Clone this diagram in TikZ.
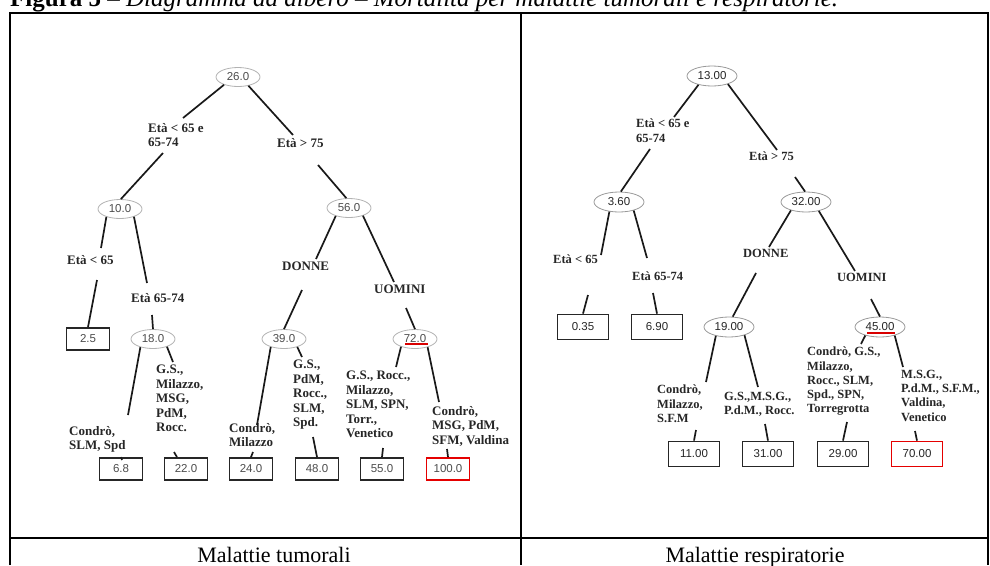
\documentclass[tikz,border=0pt]{standalone}
\usepackage{fontspec}
\setmainfont{Liberation Serif}
\newfontfamily\arialf{Liberation Sans}
\usetikzlibrary{shapes.geometric,calc}
\begin{document}
\begin{tikzpicture}[x=1pt,y=-1pt,
  val/.style={ellipse, draw=gray!60, line width=0.8pt, minimum width=44pt, minimum height=19pt, inner sep=0pt, font=\arialf\fontsize{11.5}{12}\selectfont, text=black!70},
  valr/.style={val, draw=gray!80, minimum width=50pt, minimum height=20pt, text=black!85},
  leaf/.style={rectangle, draw=black!85, line width=1.8pt, minimum width=43pt, minimum height=22pt, inner sep=0pt, font=\arialf\fontsize{11.5}{12}\selectfont, text=black!70},
  leafr/.style={leaf, minimum width=51pt, minimum height=25pt, text=black!85},
  redleaf/.style={draw=red!90!black},
  lab/.style={anchor=north west, inner sep=0pt, align=left, font=\bfseries\fontsize{13}{14.5}\selectfont, text=black!85},
  labr/.style={lab, font=\bfseries\fontsize{12.5}{14.2}\selectfont},
  conn/.style={line width=1.7pt, black!90},
  frame/.style={line width=2pt, black},
  redline/.style={line width=1.5pt, red!85!black},
]
\useasboundingbox (0,0) rectangle (990,565);
\clip (0,0) rectangle (990,565);

% caption and table
\node[anchor=base west, inner sep=0pt, font=\fontsize{25}{25}\selectfont] (cap) at (10,6)
  {\textbf{Figura 5} – \textit{Diagramma ad albero – Mortalità per malattie tumorali e respiratorie.}};
\draw[frame] (10,565) -- (10,13) -- (988,13) -- (988,565);
\draw[frame] (521,13) -- (521,565);
\draw[frame] (10,538) -- (988,538);
\node[anchor=base, inner sep=0pt, font=\fontsize{22}{22}\selectfont] (t1) at (274,562) {Malattie tumorali};
\node[anchor=base, inner sep=0pt, font=\fontsize{22}{22}\selectfont] (t2) at (755,562) {Malattie respiratorie};

% ---------------- left tree ----------------
\node[val] (L26) at (238,77) {26.0};
\node[val] (L10) at (120,209) {10.0};
\node[val] (L56) at (349,208) {56.0};
\node[val] (L18) at (153,339) {18.0};
\node[val] (L39) at (284,339) {39.0};
\node[val] (L72) at (415,339) {72.0};
\node[leaf] (L25) at (88,339) {2.5};
\node[leaf] (L68) at (121,469) {6.8};
\node[leaf] (L22) at (186,469) {22.0};
\node[leaf] (L24) at (251,469) {24.0};
\node[leaf] (L48) at (317,469) {48.0};
\node[leaf] (L55) at (382,469) {55.0};
\node[leaf, redleaf] (L100) at (448,469) {100.0};
\draw[redline] (405,344) -- (428,344);

\node[lab] (l1) at (148,123) {Età < 65 e\\65-74};
\node[lab] (l2) at (67,255) {Età < 65};
\node[lab] (l3) at (131,293) {Età 65-74};
\node[lab] (l4) at (69,426) {Condrò,\\SLM, Spd};
\node[lab] (l5) at (156,365) {G.S.,\\Milazzo,\\MSG,\\PdM,\\Rocc.};
\node[lab] (l6) at (277,138) {Età > 75};
\node[lab] (l7) at (282,262) {DONNE};
\node[lab] (l8) at (374,285) {UOMINI};
\node[lab] (l9) at (229,423) {Condrò,\\Milazzo};
\node[lab] (l10) at (293,360) {G.S.,\\PdM,\\Rocc.,\\SLM,\\Spd.};
\node[lab] (l11) at (346,371) {G.S., Rocc.,\\Milazzo,\\SLM, SPN,\\Torr.,\\Venetico};
\node[lab] (l12) at (432,406) {Condrò,\\MSG, PdM,\\SFM, Valdina};

\coordinate (c1) at (183,118);  \coordinate (c2) at (163,153);
\coordinate (c3) at (101,248);  \coordinate (c4) at (97,280);
\coordinate (c5) at (147,283);  \coordinate (c6) at (152,315);
\coordinate (c7) at (128,415);  \coordinate (c8) at (122,460);
\coordinate (c9) at (173,362);  \coordinate (c10) at (174,452);
\coordinate (c11) at (293,135); \coordinate (c12) at (318,165);
\coordinate (c13) at (316,259); \coordinate (c14) at (302,290);
\coordinate (c15) at (394,282); \coordinate (c16) at (406,308);
\coordinate (c17) at (257,425); \coordinate (c18) at (253,452);
\coordinate (c19) at (302,357); \coordinate (c20) at (313,437);
\coordinate (c21) at (396,367); \coordinate (c22) at (383,448);
\coordinate (c23) at (439,402); \coordinate (c24) at (447,449);

\draw[conn] (L26.209) -- (c1);  \draw[conn] (c2) -- (L10.85);
\draw[conn] (L10.210) -- (c3);  \draw[conn] (c4) -- (L25.north);
\draw[conn] (L10.331) -- (c5);  \draw[conn] (c6) -- (L18.north);
\draw[conn] (L18.213) -- (c7);  \draw[conn] (c8) -- (L68.north);
\draw[conn] (L18.331) -- (c9);  \draw[conn] (c10) -- ($(L22.north)+(-9,0)$);
\draw[conn] (L26.320) -- (c11); \draw[conn] (c12) -- (L56.105);
\draw[conn] (L56.211) -- (c13); \draw[conn] (c14) -- (L39.north);
\draw[conn] (L56.331) -- (c15); \draw[conn] (c16) -- (L72.north);
\draw[conn] (L39.211) -- (c17); \draw[conn] (c18) -- (L24.north);
\draw[conn] (L39.329) -- (c19); \draw[conn] (c20) -- (L48.north);
\draw[conn] (L72.209) -- (c21); \draw[conn] (c22) -- (L55.north);
\draw[conn] (L72.327) -- (c23); \draw[conn] (c24) -- (L100.north);

% ---------------- right tree ----------------
\node[valr] (R13) at (712,76) {13.00};
\node[valr] (R36) at (619,202) {3.60};
\node[valr] (R32) at (806,202) {32.00};
\node[valr] (R19) at (729,327) {19.00};
\node[valr] (R45) at (880,327) {45.00};
\node[leafr] (R035) at (583,327) {0.35};
\node[leafr] (R690) at (657,327) {6.90};
\node[leafr] (R11) at (694,454) {11.00};
\node[leafr] (R31) at (768,454) {31.00};
\node[leafr] (R29) at (843,454) {29.00};
\node[leafr, redleaf] (R70) at (917,454) {70.00};
\draw[redline] (867,333) -- (895,333);

\node[labr] (r1) at (636,119) {Età < 65 e\\65-74};
\node[labr] (r2) at (749,152) {Età > 75};
\node[labr] (r3) at (553,255) {Età < 65};
\node[labr] (r4) at (632,272) {Età 65-74};
\node[labr] (r5) at (743,249) {DONNE};
\node[labr] (r6) at (837,273) {UOMINI};
\node[labr] (r7) at (657,385) {Condrò,\\Milazzo,\\S.F.M};
\node[labr] (r8) at (724,392) {G.S.,M.S.G.,\\P.d.M., Rocc.};
\node[labr] (r9) at (807,347) {Condrò, G.S.,\\Milazzo,\\Rocc., SLM,\\Spd., SPN,\\Torregrotta};
\node[labr] (r10) at (901,370) {M.S.G.,\\P.d.M., S.F.M.,\\Valdina,\\Venetico};

\coordinate (d1) at (674,117);  \coordinate (d2) at (650,149);
\coordinate (d3) at (601,255);  \coordinate (d4) at (588,295);
\coordinate (d5) at (647,258);  \coordinate (d6) at (653,293);
\coordinate (d7) at (777,150);  \coordinate (d8) at (795,177);
\coordinate (d9) at (769,247);  \coordinate (d10) at (756,273);
\coordinate (d11) at (855,271); \coordinate (d12) at (871,299);
\coordinate (d13) at (706,382); \coordinate (d14) at (696,430);
\coordinate (d15) at (758,387); \coordinate (d16) at (765,424);
\coordinate (d17) at (861,344); \coordinate (d18) at (847,422);
\coordinate (d19) at (903,367); \coordinate (d20) at (915,431);

\draw[conn] (R13.213) -- (d1);  \draw[conn] (d2) -- (R36.80);
\draw[conn] (R36.225) -- (d3);  \draw[conn] (d4) -- (R035.north);
\draw[conn] (R36.330) -- (d5);  \draw[conn] (d6) -- (R690.north);
\draw[conn] (R13.333) -- (d7);  \draw[conn] (d8) -- (R32.95);
\draw[conn] (R32.209) -- (d9);  \draw[conn] (d10) -- (R19.70);
\draw[conn] (R32.325) -- (d11); \draw[conn] (d12) -- (R45.north);
\draw[conn] (R19.214) -- (d13); \draw[conn] (d14) -- (R11.north);
\draw[conn] (R19.332) -- (d15); \draw[conn] (d16) -- (R31.north);
\draw[conn] (R45.210) -- (d17); \draw[conn] (d18) -- (R29.north);
\draw[conn] (R45.330) -- (d19); \draw[conn] (d20) -- (R70.north);
\end{tikzpicture}
\end{document}
